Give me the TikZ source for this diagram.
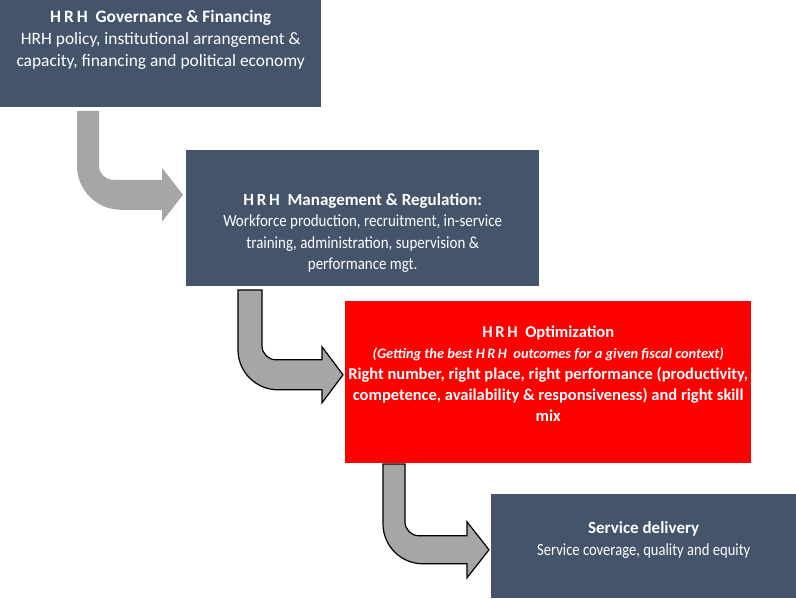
\documentclass[tikz,border=0pt]{standalone}
\usepackage{fontspec}
\setmainfont{Carlito}
\usepackage{tikz}
\usetikzlibrary{calc}
\definecolor{slatecolor}{HTML}{44546A}
\definecolor{optcolor}{HTML}{FF0000}
\definecolor{arrowgray}{HTML}{A6A6A6}

\begin{document}
\begin{tikzpicture}[x=1pt, y=1pt,
    panel/.style={rectangle, fill=#1, inner sep=0pt, anchor=south west},
    caption/.style={text=white, align=center, inner sep=0pt, font=\fontsize{17}{21.5}\selectfont},
    bend/.style={fill=arrowgray, draw=#1, line width=1.2pt, line join=miter}
]
\useasboundingbox (0,0) rectangle (796,598);

% the four stages
\node[panel=slatecolor, minimum width=321pt, minimum height=107pt] (gov) at (0,491) {};
\node[panel=slatecolor, minimum width=353pt, minimum height=136pt] (mgt) at (186,312) {};
\node[panel=optcolor, minimum width=406pt, minimum height=162pt] (opt) at (345,135) {};
\node[panel=slatecolor, minimum width=305pt, minimum height=104pt] (svc) at (491,0) {};

\node[caption, font=\fontsize{17.4}{22}\selectfont] (govtext) at ([yshift=13]gov.center)
  {\textbf{H\,R\,H\ \ Governance \& Financing}\\
   HRH policy, institutional arrangement \&\\
   capacity, financing and political economy};
\node[caption] (mgttext) at ([yshift=-15]mgt.center)
  {\textbf{H\,R\,H\ \ Management \& Regulation:}\\
   {\addfontfeature{FakeStretch=0.88}Workforce production, recruitment, in-service}\\
   {\addfontfeature{FakeStretch=0.88}training, administration, supervision \&}\\
   {\addfontfeature{FakeStretch=0.88}performance mgt.}};
\node[caption, font=\fontsize{16.5}{21}\selectfont] (opttext) at ([yshift=8]opt.center)
  {\textbf{H\,R\,H\ \ Optimization}\\
   {\fontsize{14.4}{21}\selectfont\itshape\bfseries (Getting the best H\,R\,H\ \ outcomes for a given fiscal context)}\\
   \textbf{Right number, right place, right performance (productivity,}\\
   \textbf{competence, availability \& responsiveness) and right skill}\\
   \textbf{mix}};
\node[caption] (svctext) at ([yshift=6]svc.center)
  {\textbf{Service delivery}\\
   {\addfontfeature{FakeStretch=0.86}Service coverage, quality and equity}};

% bent arrows between the stages
\coordinate (s1) at ([shift={(77,-4)}]gov.south west);
\coordinate (t1) at ([shift={(-3,23)}]mgt.west);
\coordinate (s2) at ([shift={(52,-4)}]mgt.south west);
\coordinate (t2) at ([shift={(-2,7)}]opt.west);
\coordinate (s3) at ([shift={(38,-1)}]opt.south west);
\coordinate (t3) at ([shift={(-2,-4)}]svc.west);

\fill[arrowgray] (s1) [rounded corners=44pt] -- ($(s1 |- t1)+(0,-15)$) [sharp corners]
  -- ($(t1)+(-21,-15)$) -- ++(0,-12) -- (t1) -- ($(t1)+(-21,27)$) -- ++(0,-12)
  [rounded corners=14pt] -- ($(s1 |- t1)+(22,15)$) [sharp corners] -- ($(s1)+(22,0)$) -- cycle;
\filldraw[bend=black] (s2) [rounded corners=40pt] -- ($(s2 |- t2)+(0,-15)$) [sharp corners]
  -- ($(t2)+(-21,-15)$) -- ++(0,-13) -- (t2) -- ($(t2)+(-21,28)$) -- ++(0,-13)
  [rounded corners=14pt] -- ($(s2 |- t2)+(24,15)$) [sharp corners] -- ($(s2)+(24,0)$) -- cycle;
\filldraw[bend=black] (s3) [rounded corners=40pt] -- ($(s3 |- t3)+(0,-14)$) [sharp corners]
  -- ($(t3)+(-22,-14)$) -- ++(0,-14) -- (t3) -- ($(t3)+(-22,28)$) -- ++(0,-14)
  [rounded corners=14pt] -- ($(s3 |- t3)+(22,14)$) [sharp corners] -- ($(s3)+(22,0)$) -- cycle;
\end{tikzpicture}
\end{document}
